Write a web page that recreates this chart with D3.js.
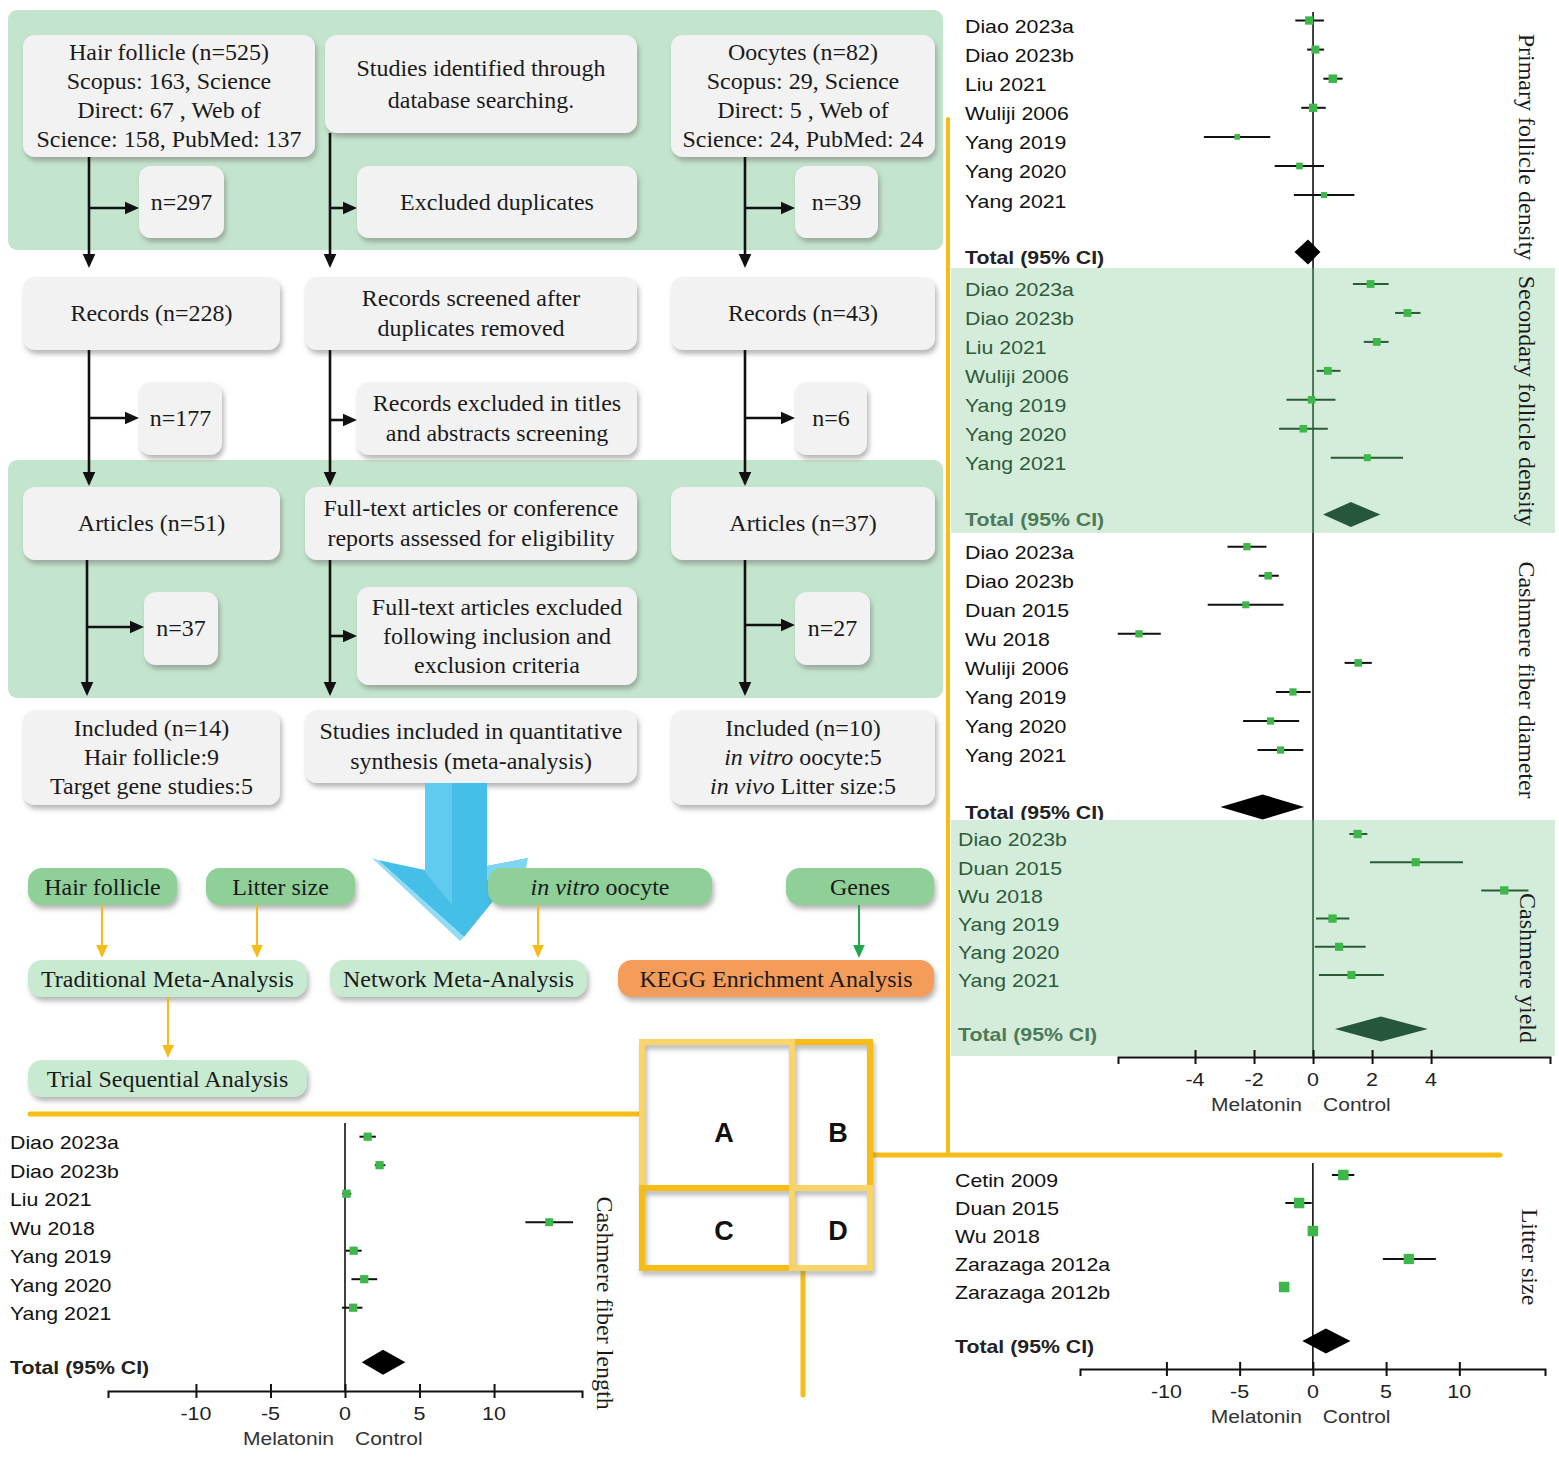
<!DOCTYPE html>
<html>
<head>
<meta charset="utf-8">
<script src="https://cdn.jsdelivr.net/npm/d3@7"></script>
<style>
  body { margin: 0; background: #fff; }
  svg { display: block; }
</style>
</head>
<body>
<svg id="fig" width="1559" height="1459"></svg>
<script>
// ---- forest plot data (mean difference, 95% CI, relative weight) ----
const primaryStudies = ["Diao 2023a", "Diao 2023b", "Liu 2021", "Wuliji 2006", "Yang 2019", "Yang 2020", "Yang 2021"];
const primaryMD = [-0.13, 0.08, 0.67, 0.00, -2.57, -0.46, 0.37];
const primaryLo = [-0.60, -0.20, 0.35, -0.40, -3.70, -1.30, -0.65];
const primaryHi = [0.37, 0.37, 1.00, 0.43, -1.45, 0.37, 1.40];
const primaryWt = [17, 16, 18, 17, 8, 11, 9];
const primaryTotal = [-0.17, -0.63, 0.25];

const secondaryStudies = ["Diao 2023a", "Diao 2023b", "Liu 2021", "Wuliji 2006", "Yang 2019", "Yang 2020", "Yang 2021"];
const secondaryMD = [1.95, 3.20, 2.16, 0.50, -0.05, -0.33, 1.84];
const secondaryLo = [1.35, 2.78, 1.72, 0.12, -0.90, -1.15, 0.60];
const secondaryHi = [2.56, 3.64, 2.56, 0.93, 0.76, 0.50, 3.05];
const secondaryWt = [15, 15, 15, 15, 14, 14, 12];
const secondaryTotal = [1.28, 0.34, 2.28];

const diameterStudies = ["Diao 2023a", "Diao 2023b", "Duan 2015", "Wu 2018", "Wuliji 2006", "Yang 2019", "Yang 2020", "Yang 2021"];
const diameterMD = [-2.24, -1.52, -2.28, -5.90, 1.53, -0.68, -1.44, -1.10];
const diameterLo = [-2.90, -1.84, -3.57, -6.62, 1.07, -1.26, -2.37, -1.88];
const diameterHi = [-1.58, -1.16, -1.00, -5.16, 1.99, -0.08, -0.47, -0.33];
const diameterWt = [13, 14, 12, 13, 14, 13, 13, 13];
const diameterTotal = [-1.71, -3.14, -0.30];

const yieldStudies = ["Diao 2023b", "Duan 2015", "Wu 2018", "Yang 2019", "Yang 2020", "Yang 2021"];
const yieldMD = [1.51, 3.48, 6.48, 0.66, 0.88, 1.30];
const yieldLo = [1.23, 1.93, 5.70, 0.10, 0.06, 0.20];
const yieldHi = [1.84, 5.08, 7.30, 1.23, 1.78, 2.40];
const yieldWt = [17, 16, 17, 17, 16, 16];
const yieldTotal = [2.30, 0.74, 3.89];

const lengthStudies = ["Diao 2023a", "Diao 2023b", "Liu 2021", "Wu 2018", "Yang 2019", "Yang 2020", "Yang 2021"];
const lengthMD = [1.52, 2.32, 0.10, 13.70, 0.58, 1.29, 0.55];
const lengthLo = [0.97, 2.00, -0.20, 12.10, 0.05, 0.43, -0.20];
const lengthHi = [2.07, 2.70, 0.42, 15.30, 1.12, 2.16, 1.17];
const lengthWt = [15, 15, 15, 14, 15, 15, 15];
const lengthTotal = [2.55, 1.12, 4.05];

const litterStudies = ["Cetin 2009", "Duan 2015", "Wu 2018", "Zarazaga 2012a", "Zarazaga 2012b"];
const litterMD = [2.08, -0.94, 0.00, 6.55, -1.96];
const litterLo = [1.30, -1.88, -0.15, 4.78, -2.10];
const litterHi = [2.83, -0.08, 0.15, 8.40, -1.82];
const litterWt = [20, 20, 20, 19, 20];
const litterTotal = [0.89, -0.72, 2.57];

const topTicks = [-4, -2, 0, 2, 4];
const bottomTicks = [-10, -5, 0, 5, 10];

// ---- styles ----
const SERIF = "'Liberation Serif','Times New Roman',serif";
const SANS = "'Liberation Sans',Arial,Helvetica,sans-serif";
const SY_SERIF = 0.93;
const SY_SANS = 0.86;
const BAND = "#c4e5cd";
const BOX = "#f2f2f2";
const PANEL_GREEN = "#d4ecda";
const DARK_GREEN = "#2b5a37";
const SQUARE = "#3db64a";
const YELLOW = "#f6bd18";
const YELLOW_LT = "#f9d468";

const svg = d3.select("#fig");
const defs = svg.append("defs");
const sh = defs.append("filter").attr("id", "shadow")
	.attr("x", "-10%").attr("y", "-15%").attr("width", "125%").attr("height", "145%");
sh.append("feDropShadow").attr("dx", 2).attr("dy", 4).attr("stdDeviation", 2.5)
	.attr("flood-color", "#6e6e6e").attr("flood-opacity", 0.5);

function label(g, x, y, parts, o) {
	o = o || {};
	var font = o.font || SERIF;
	var sy = o.sy || (font === SANS ? SY_SANS : SY_SERIF);
	var t = g.append("text")
		.attr("transform", "translate(" + x + "," + y + ") scale(1," + sy + ")")
		.attr("text-anchor", o.anchor || "middle")
		.attr("dy", "0.35em")
		.attr("font-family", font)
		.attr("font-size", o.size || 24)
		.attr("font-weight", o.weight || null)
		.attr("fill", o.fill || "#1a1a1a");
	(Array.isArray(parts) ? parts : [parts]).forEach(function(p) {
		if (typeof p === "string") t.append("tspan").text(p);
		else t.append("tspan").attr("font-style", "italic").text(p.i);
	});
	return t;
}

// ---------------- flow chart ----------------
const flow = svg.append("g");
flow.append("rect").attr("x", 8).attr("y", 10).attr("width", 935).attr("height", 240).attr("rx", 9).attr("fill", BAND);
flow.append("rect").attr("x", 8).attr("y", 460).attr("width", 935).attr("height", 238).attr("rx", 9).attr("fill", BAND);

// blue arrow sits behind the pills
const blue = svg.append("g");
blue.append("path")
	.attr("d", "M425,783 L487,783 L487,866 L528,858 L464,937 L378,860 L425,870 Z")
	.attr("fill", "#45bfe7");
blue.append("path").attr("d", "M425,783 L452,783 L452,905 L425,872 Z").attr("fill", "#5fcbef");
blue.append("path").attr("d", "M378,860 L464,937 L460,941 L372,858 Z").attr("fill", "#8fdcf3");
blue.append("path").attr("d", "M487,866 L528,858 L526,868 L487,880 Z").attr("fill", "#7fd6f2");

const boxes = [
	[23, 35, 292, 122, ["Hair follicle (n=525)", "Scopus: 163, Science", "Direct: 67 , Web of", "Science: 158, PubMed: 137"]],
	[325, 35, 312, 98, ["Studies identified through", "database searching."]],
	[671, 35, 264, 122, ["Oocytes (n=82)", "Scopus: 29, Science", "Direct: 5 , Web of", "Science: 24, PubMed: 24"]],
	[139, 166, 85, 72, ["n=297"]],
	[357, 166, 280, 72, ["Excluded duplicates"]],
	[795, 166, 83, 72, ["n=39"]],
	[23, 277, 257, 73, ["Records (n=228)"]],
	[305, 277, 332, 73, ["Records screened after", "duplicates removed"]],
	[671, 277, 264, 73, ["Records (n=43)"]],
	[139, 382, 83, 73, ["n=177"]],
	[357, 382, 280, 73, ["Records excluded in titles", "and abstracts screening"]],
	[795, 382, 72, 73, ["n=6"]],
	[23, 487, 257, 73, ["Articles (n=51)"]],
	[305, 487, 332, 73, ["Full-text articles or conference", "reports assessed for eligibility"]],
	[671, 487, 264, 73, ["Articles (n=37)"]],
	[144, 592, 74, 73, ["n=37"]],
	[357, 587, 280, 98, ["Full-text articles excluded", "following inclusion and", "exclusion criteria"]],
	[795, 592, 75, 73, ["n=27"]],
	[23, 710, 257, 95, ["Included (n=14)", "Hair follicle:9", "Target gene studies:5"]],
	[305, 710, 332, 73, ["Studies included in quantitative", "synthesis (meta-analysis)"]],
	[671, 710, 264, 95, ["Included (n=10)", [{i: "in vitro"}, " oocyte:5"], [{i: "in vivo"}, " Litter size:5"]]]
];

boxes.forEach(function(b) {
	flow.append("rect").attr("x", b[0]).attr("y", b[1]).attr("width", b[2]).attr("height", b[3])
		.attr("rx", 12).attr("fill", BOX).attr("filter", "url(#shadow)");
	var n = b[4].length;
	var gap = n >= 3 ? 29 : (b[1] === 35 ? 32 : 30);
	var cy = b[1] + b[3] / 2;
	b[4].forEach(function(line, i) {
		label(flow, b[0] + b[2] / 2, cy + (i - (n - 1) / 2) * gap, line, {});
	});
});

function arrowDown(g, x, y1, y2, color, w, head) {
	g.append("line").attr("x1", x).attr("x2", x).attr("y1", y1).attr("y2", y2 - head + 1)
		.attr("stroke", color).attr("stroke-width", w);
	g.append("path").attr("d", "M" + (x - head * 0.45) + "," + (y2 - head) + " L" + (x + head * 0.45) + "," + (y2 - head) + " L" + x + "," + y2 + " Z")
		.attr("fill", color);
}
function arrowRight(g, x1, x2, y, color, w, head) {
	g.append("line").attr("x1", x1).attr("x2", x2 - head + 1).attr("y1", y).attr("y2", y)
		.attr("stroke", color).attr("stroke-width", w);
	g.append("path").attr("d", "M" + (x2 - head) + "," + (y - head * 0.45) + " L" + (x2 - head) + "," + (y + head * 0.45) + " L" + x2 + "," + y + " Z")
		.attr("fill", color);
}

// column connectors
const cols = [
	{x: [89, 89, 87], tips: [139, 139, 144], by: [208, 418, 627]},
	{x: [330, 330, 330], tips: [357, 357, 357], by: [208, 420, 636]},
	{x: [745, 745, 745], tips: [795, 795, 795], by: [208, 418, 625]}
];
const segs = [[157, 268], [350, 486], [560, 696]];
cols.forEach(function(c, ci) {
	segs.forEach(function(s, si) {
		var y1 = (ci === 1 && si === 0) ? 133 : s[0];
		arrowDown(flow, c.x[si], y1, s[1], "#111", 2.6, 14);
		arrowRight(flow, c.x[si], c.tips[si], c.by[si], "#111", 2.6, 14);
	});
});

// analysis pills
const pills = svg.append("g");
const pillDefs = [
	[28, 868, 149, 37, "#8fcf98", ["Hair follicle"]],
	[206, 868, 149, 37, "#8fcf98", ["Litter size"]],
	[488, 868, 224, 37, "#8fcf98", [{i: "in vitro"}, " oocyte"]],
	[786, 868, 148, 37, "#8fcf98", ["Genes"]],
	[28, 960, 279, 37, "#c8ead1", ["Traditional Meta-Analysis"]],
	[330, 960, 257, 37, "#c8ead1", ["Network Meta-Analysis"]],
	[618, 960, 316, 37, "#f49c5a", ["KEGG Enrichment Analysis"]],
	[28, 1060, 279, 37, "#c8ead1", ["Trial Sequential Analysis"]]
];
pillDefs.forEach(function(p) {
	pills.append("rect").attr("x", p[0]).attr("y", p[1]).attr("width", p[2]).attr("height", p[3])
		.attr("rx", 14).attr("fill", p[4]).attr("filter", "url(#shadow)");
	label(pills, p[0] + p[2] / 2, p[1] + p[3] / 2 + 1, p[5], {});
});
arrowDown(pills, 102, 905, 958, YELLOW, 2, 13);
arrowDown(pills, 257, 905, 958, YELLOW, 2, 13);
arrowDown(pills, 538, 905, 958, YELLOW, 2, 13);
arrowDown(pills, 859, 905, 958, "#1fa64a", 2, 13);
arrowDown(pills, 168, 997, 1058, YELLOW, 2, 13);

// ---------------- yellow frame & ABCD key ----------------
const frame = svg.append("g").attr("stroke-linecap", "round").attr("fill", "none");
frame.append("line").attr("x1", 30).attr("x2", 642).attr("y1", 1114).attr("y2", 1114).attr("stroke", YELLOW).attr("stroke-width", 5);
frame.append("line").attr("x1", 948).attr("x2", 948).attr("y1", 119).attr("y2", 1155).attr("stroke", YELLOW).attr("stroke-width", 4);
frame.append("line").attr("x1", 870).attr("x2", 1500).attr("y1", 1155).attr("y2", 1155).attr("stroke", YELLOW).attr("stroke-width", 5);
frame.append("line").attr("x1", 803).attr("x2", 803).attr("y1", 1268).attr("y2", 1395).attr("stroke", YELLOW).attr("stroke-width", 5);

const key = svg.append("g").attr("filter", "url(#shadow)").attr("stroke-width", 6).attr("stroke-linecap", "square");
const keySegs = [
	[642, 1042, 792, 1042, YELLOW_LT], [792, 1042, 870, 1042, YELLOW],
	[642, 1042, 642, 1188, YELLOW_LT], [642, 1188, 642, 1268, YELLOW],
	[642, 1188, 792, 1188, YELLOW], [792, 1188, 870, 1188, YELLOW_LT],
	[792, 1042, 792, 1188, YELLOW_LT], [792, 1188, 792, 1268, YELLOW_LT],
	[870, 1042, 870, 1188, YELLOW], [870, 1188, 870, 1268, YELLOW_LT],
	[642, 1268, 792, 1268, YELLOW], [792, 1268, 870, 1268, YELLOW_LT]
];
keySegs.forEach(function(s) {
	key.append("line").attr("x1", s[0]).attr("y1", s[1]).attr("x2", s[2]).attr("y2", s[3]).attr("stroke", s[4]);
});
[["A", 724, 1133], ["B", 838, 1133], ["C", 724, 1231], ["D", 838, 1231]].forEach(function(k) {
	label(svg, k[1], k[2], k[0], {font: SANS, size: 27, weight: "bold", sy: 1, fill: "#111"});
});

// ---------------- forest plots ----------------
function drawPanel(p, x, bgX) {
	var g = svg.append("g");
	if (p.green) {
		g.append("rect").attr("x", bgX[0]).attr("y", p.top).attr("width", bgX[1] - bgX[0])
			.attr("height", p.bottom - p.top).attr("fill", PANEL_GREEN);
	}
	var ink = p.green ? DARK_GREEN : "#111";
	var txt = p.green ? "#2e5b3a" : "#111";
	var size = d3.scaleSqrt().domain([0, 20]).range([0, p.sq]);

	g.append("line").attr("x1", x(0)).attr("x2", x(0)).attr("y1", p.top).attr("y2", p.bottom)
		.attr("stroke", ink).attr("stroke-width", 1.6);

	p.studies.forEach(function(s, i) {
		var y = p.y0 + i * p.step;
		label(g, p.labelX, y + 6, s, {font: SANS, size: 21.3, anchor: "start", fill: txt});
		g.append("line").attr("x1", x(p.lo[i])).attr("x2", x(p.hi[i])).attr("y1", y).attr("y2", y)
			.attr("stroke", ink).attr("stroke-width", 2);
		var s2 = size(p.wt[i]);
		g.append("rect").attr("x", x(p.md[i]) - s2 / 2).attr("y", y - s2 / 2)
			.attr("width", s2).attr("height", s2).attr("fill", SQUARE);
	});

	label(g, p.labelX, p.totalY + 5.5, "Total (95% CI)", {font: SANS, size: 21.3, anchor: "start", weight: "bold",
		fill: p.green ? "#4d7a58" : "#222"});
	var t = p.total, ty = p.totalY, hh = 12.5;
	g.append("path")
		.attr("d", "M" + x(t[1]) + "," + ty + " L" + x(t[0]) + "," + (ty - hh) + " L" + x(t[2]) + "," + ty + " L" + x(t[0]) + "," + (ty + hh) + " Z")
		.attr("fill", p.green ? "#27573a" : "#000");

	g.append("text")
		.attr("transform", "translate(" + p.titleX + "," + p.titleY + ") rotate(90)")
		.attr("text-anchor", "middle").attr("dy", "0.35em")
		.attr("font-family", SERIF).attr("font-size", 24).attr("fill", "#1a1a1a")
		.text(p.title);
}

function drawAxis(x, y, ticks) {
	var g = svg.append("g").attr("transform", "translate(0," + y + ")");
	g.call(d3.axisBottom(x).tickValues(ticks).tickSizeOuter(0).tickSize(7).tickFormat(function(d) { return String(d); }));
	g.select(".domain").attr("stroke", "#111").attr("stroke-width", 2);
	g.selectAll(".tick line").attr("y1", -7).attr("y2", 7).attr("stroke", "#111").attr("stroke-width", 2);
	g.selectAll(".tick text").remove();
	ticks.forEach(function(d) {
		label(g, x(d), 22.5, String(d), {font: SANS, size: 21.5, fill: "#222"});
	});
	label(g, x(0) - 11, 48, "Melatonin", {font: SANS, size: 21, anchor: "end", fill: "#333"});
	label(g, x(0) + 10, 48, "Control", {font: SANS, size: 21, anchor: "start", fill: "#333"});
}

const topX = d3.scaleLinear().domain([-6.61, 8.03]).range([1118, 1550]);
const rightPanels = [
	{studies: primaryStudies, md: primaryMD, lo: primaryLo, hi: primaryHi, wt: primaryWt, total: primaryTotal,
		title: "Primary follicle density", top: 12, bottom: 268, y0: 20.5, step: 29.1, totalY: 252,
		titleX: 1527, titleY: 147, labelX: 965, green: false, sq: 9},
	{studies: secondaryStudies, md: secondaryMD, lo: secondaryLo, hi: secondaryHi, wt: secondaryWt, total: secondaryTotal,
		title: "Secondary follicle density", top: 268, bottom: 533, y0: 284, step: 28.95, totalY: 514.5,
		titleX: 1527, titleY: 401, labelX: 965, green: true, sq: 9},
	{studies: diameterStudies, md: diameterMD, lo: diameterLo, hi: diameterHi, wt: diameterWt, total: diameterTotal,
		title: "Cashmere fiber diameter", top: 533, bottom: 820, y0: 546.7, step: 29.05, totalY: 807,
		titleX: 1527, titleY: 680, labelX: 965, green: false, sq: 9},
	{studies: yieldStudies, md: yieldMD, lo: yieldLo, hi: yieldHi, wt: yieldWt, total: yieldTotal,
		title: "Cashmere yield", top: 820, bottom: 1056, y0: 834, step: 28.2, totalY: 1029,
		titleX: 1528, titleY: 968, labelX: 958, green: true, sq: 9}
];
rightPanels.forEach(function(p) { drawPanel(p, topX, [951, 1555]); });
drawAxis(topX, 1057, topTicks);

const lengthX = d3.scaleLinear().domain([-15.9, 15.9]).range([108, 582]);
drawPanel({studies: lengthStudies, md: lengthMD, lo: lengthLo, hi: lengthHi, wt: lengthWt, total: lengthTotal,
	title: "Cashmere fiber length", top: 1123, bottom: 1391, y0: 1136.7, step: 28.5, totalY: 1362.3,
	titleX: 605, titleY: 1303, labelX: 10, green: false, sq: 9.5}, lengthX);
drawAxis(lengthX, 1391, bottomTicks);

const litterX = d3.scaleLinear().domain([-15.9, 15.85]).range([1080, 1545]);
drawPanel({studies: litterStudies, md: litterMD, lo: litterLo, hi: litterHi, wt: litterWt, total: litterTotal,
	title: "Litter size", top: 1163, bottom: 1369, y0: 1175, step: 28, totalY: 1341,
	titleX: 1530, titleY: 1257, labelX: 955, green: false, sq: 10.5}, litterX);
drawAxis(litterX, 1369, bottomTicks);
</script>
</body>
</html>
